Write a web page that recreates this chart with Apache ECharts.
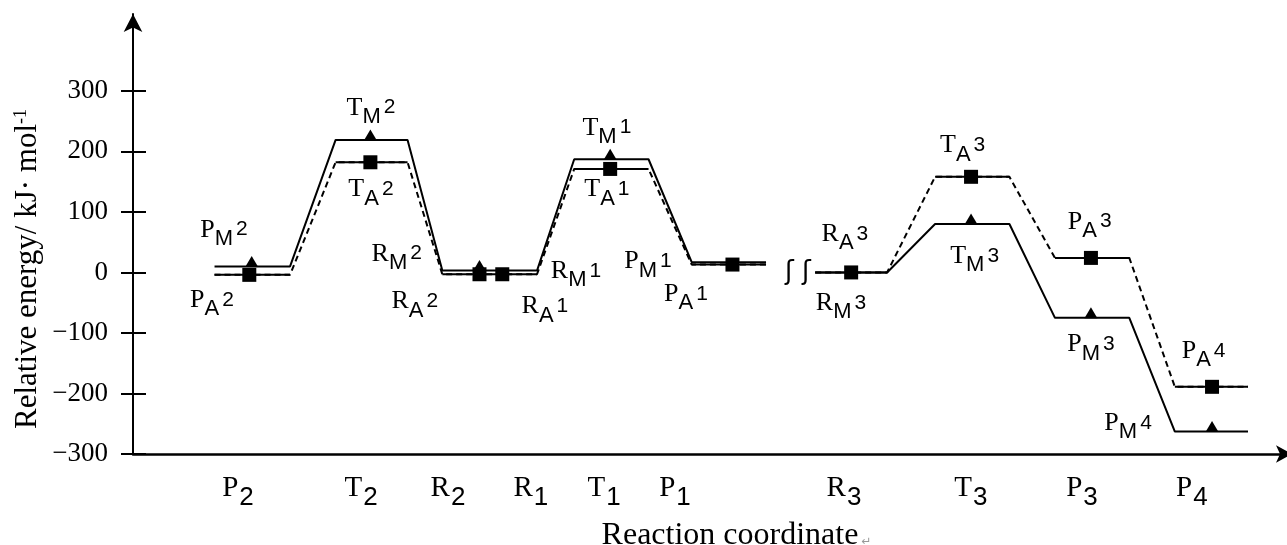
<!DOCTYPE html>
<html>
<head>
<meta charset="utf-8">
<script src="https://cdn.jsdelivr.net/npm/echarts@6/dist/echarts.min.js"></script>
<style>
  html, body { margin: 0; background: #fff; }
  #chart { width: 1287px; height: 545px; }
</style>
</head>
<body>
<div id="chart"></div>
<script>
// stages along the reaction coordinate (left part runs P2 <- T2 <- R2/R1 -> T1 -> P1)
var stageStart = [0.68, 1.69, 2.58, 3.68, 4.66, 5.69, 6.69, 7.69, 8.69];
var stageEnd = [1.31, 2.29, 3.37, 4.30, 5.28, 6.29, 7.31, 8.31, 9.30];
var energyM = [10, 219, 3, 187, 17, 0, 80, -75, -263];
var energyA = [-4, 182, -3, 171, 13, 0, 158, 24, -189];
var breakAfter = 4;

// markers: [stage index, x]
var triMarks = [[0, 0.99], [1, 1.98], [2, 2.89], [3, 3.98], [6, 6.99], [7, 7.99], [8, 9.0]];
var sqMarks = [[0, 0.97], [1, 1.98], [2, 2.89], [2, 3.08], [3, 3.98], [4, 5.0], [5, 5.99], [6, 6.99], [7, 7.99], [8, 9.0]];

// axis labels
var yTicks = [-300, -200, -100, 0, 100, 200, 300];
var xLabelPos = [0.876, 1.902, 2.627, 3.319, 3.929, 4.521, 5.930, 6.989, 7.915, 8.832];
var xLabelMain = ['P', 'T', 'R', 'R', 'T', 'P', 'R', 'T', 'P', 'P'];
var xLabelSub = ['2', '2', '2', '1', '1', '1', '3', '3', '3', '4'];

// level names: [letter, subscript, superscript, x, energy]
var notes = [
  ['T', 'M', '2', 1.985, 266], ['T', 'A', '2', 1.985, 131],
  ['P', 'M', '2', 0.759, 64], ['P', 'A', '2', 0.659, -52],
  ['R', 'M', '2', 2.20, 25], ['R', 'A', '2', 2.35, -54],
  ['R', 'M', '1', 3.695, -4], ['R', 'A', '1', 3.436, -62],
  ['T', 'M', '1', 3.953, 233], ['T', 'A', '1', 3.953, 131],
  ['P', 'M', '1', 4.295, 12], ['P', 'A', '1', 4.612, -42],
  ['R', 'A', '3', 5.938, 57], ['R', 'M', '3', 5.905, -57],
  ['T', 'A', '3', 6.92, 204], ['T', 'M', '3', 7.02, 21],
  ['P', 'A', '3', 7.98, 78], ['P', 'M', '3', 7.99, -125],
  ['P', 'A', '4', 8.93, -136], ['P', 'M', '4', 8.30, -255]
];
var breakMark = [5.545, 0];

function buildPath(energy, levelsOnly) {
  var out = [];
  for (var i = 0; i < energy.length; i++) {
    out.push([stageStart[i], energy[i]]);
    out.push([stageEnd[i], energy[i]]);
    if (levelsOnly || i === breakAfter) out.push([stageEnd[i] + 0.01, null]);
  }
  return out;
}

var serif = 'Liberation Serif';
var sans = 'Liberation Sans';

var noteRich = {
  t: { fontFamily: serif, fontSize: 26, color: '#000', verticalAlign: 'top' },
  s: { fontFamily: sans, fontSize: 22, color: '#000', verticalAlign: 'top', padding: [11, 0, 0, 0] },
  p: { fontFamily: sans, fontSize: 21, color: '#000', verticalAlign: 'top', padding: [2, 0, 0, 3] }
};

var chart = echarts.init(document.getElementById('chart'));
chart.setOption({
  animation: false,
  backgroundColor: '#fff',
  textStyle: { fontFamily: serif, color: '#000' },
  grid: { left: 133, right: -5, top: 14, bottom: 91, containLabel: false, outerBoundsMode: 'none' },
  xAxis: {
    type: 'value', min: 0, max: 9.667,
    axisLine: { onZero: false, lineStyle: { color: '#000', width: 2.5 }, symbol: ['none', 'arrow'], symbolSize: [13, 16] },
    axisTick: { show: false },
    splitLine: { show: false },
    axisLabel: {
      customValues: xLabelPos,
      margin: 20,
      fontFamily: serif, fontSize: 29, color: '#000',
      formatter: function (v) {
        var i = xLabelPos.findIndex(function (p) { return Math.abs(p - v) < 1e-6; });
        return i < 0 ? '' : '{t|' + xLabelMain[i] + '}{s|' + xLabelSub[i] + '}';
      },
      rich: {
        t: { fontFamily: serif, fontSize: 29, color: '#000', verticalAlign: 'top' },
        s: { fontFamily: sans, fontSize: 26, color: '#000', verticalAlign: 'top', padding: [11, 0, 0, 1] }
      }
    },
    name: 'Reaction coordinate{r|↵}',
    nameLocation: 'middle',
    nameGap: 66,
    nameMoveOverlap: false,
    nameTextStyle: {
      fontFamily: serif, fontSize: 32, color: '#000', padding: [0, 0, 0, 48],
      rich: { r: { fontFamily: 'DejaVu Sans', fontSize: 12, color: '#999', verticalAlign: 'bottom', padding: [0, 0, 4, 3] } }
    }
  },
  yAxis: [{
    type: 'value', min: -300, max: 427, position: 'left',
    axisLine: { onZero: false, lineStyle: { color: '#000', width: 2 }, symbol: ['none', 'arrow'], symbolSize: [14, 18] },
    axisTick: { customValues: yTicks, length: 12, lineStyle: { color: '#000', width: 2 } },
    axisLabel: {
      customValues: yTicks, margin: 25, fontFamily: serif, fontSize: 27, color: '#000',
      formatter: function (v) { return String(v).replace('-', '\u2212'); }
    },
    splitLine: { show: false },
    name: 'Relative energy/ kJ· mol{p|-1}',
    nameLocation: 'middle',
    nameGap: 90,
    nameMoveOverlap: false,
    nameTextStyle: {
      fontFamily: serif, fontSize: 31, color: '#000', padding: [0, 70, 0, 0],
      rich: { p: { fontFamily: serif, fontSize: 18, color: '#000', verticalAlign: 'top' } }
    }
  }, {
    type: 'value', min: -300, max: 427, position: 'left',
    axisLine: { show: false, onZero: false },
    axisTick: { show: true, inside: true, customValues: yTicks, length: 13, lineStyle: { color: '#000', width: 2 } },
    axisLabel: { show: false },
    splitLine: { show: false }
  }],
  series: [
    {
      type: 'line', name: 'M', data: buildPath(energyM, false), symbol: 'none', silent: true,
      lineStyle: { color: '#000', width: 2 }, z: 3
    },
    {
      type: 'line', name: 'A path', data: buildPath(energyA, false), symbol: 'none', silent: true,
      lineStyle: { color: '#000', width: 2, type: [6, 4] }, z: 2
    },
    {
      type: 'line', name: 'A levels', data: buildPath(energyA, true), symbol: 'none', silent: true,
      lineStyle: { color: '#000', width: 2 }, z: 3
    },
    {
      type: 'scatter', name: 'M marks', silent: true, z: 5,
      symbol: 'triangle', symbolSize: [13, 11], symbolOffset: [0, -5],
      itemStyle: { color: '#000', opacity: 1 },
      data: triMarks.map(function (m) { return [m[1], energyM[m[0]]]; })
    },
    {
      type: 'scatter', name: 'A marks', silent: true, z: 6,
      symbol: 'rect', symbolSize: 14,
      itemStyle: { color: '#000', opacity: 1 },
      data: sqMarks.map(function (m) { return [m[1], energyA[m[0]]]; })
    },
    {
      type: 'scatter', name: 'names', silent: true, z: 7, symbolSize: 0,
      itemStyle: { opacity: 1 },
      data: notes.map(function (n) { return [n[3], n[4], n[0], n[1], n[2]]; }),
      label: {
        show: true, position: 'inside', align: 'center', verticalAlign: 'middle',
        fontFamily: serif, fontSize: 26, color: '#000', opacity: 1,
        formatter: function (p) { return '{t|' + p.data[2] + '}{s|' + p.data[3] + '}{p|' + p.data[4] + '}'; },
        rich: noteRich
      }
    },
    {
      type: 'scatter', name: 'break', silent: true, z: 7, symbolSize: 0,
      itemStyle: { opacity: 1 },
      data: [breakMark],
      label: { show: true, position: 'inside', formatter: '\u0283 \u0283', fontFamily: 'DejaVu Sans', fontSize: 26, color: '#000', opacity: 1 }
    }
  ]
});
</script>
</body>
</html>
